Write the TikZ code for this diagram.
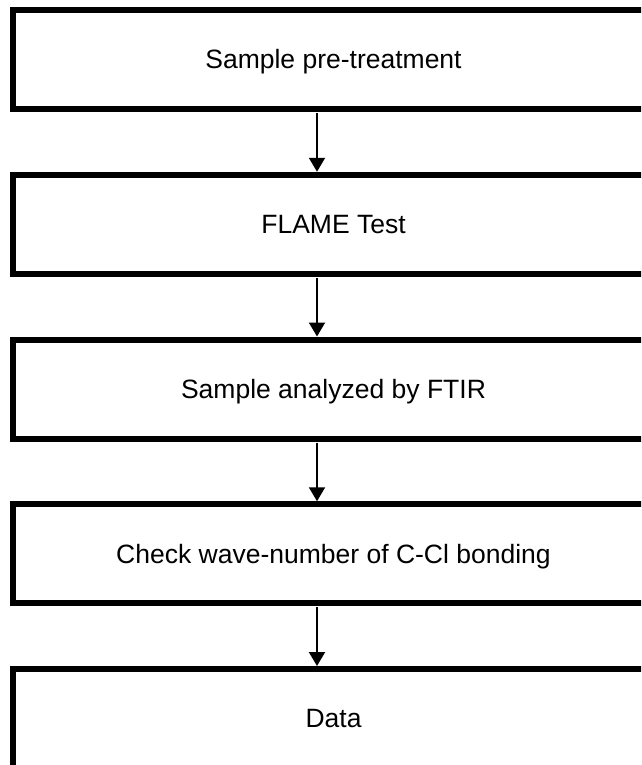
\documentclass[tikz,border=0pt]{standalone}
\usepackage{fontspec}
\setmainfont{Liberation Sans}
\usetikzlibrary{
  arrows.meta,
  positioning
}

\begin{document}
\begin{tikzpicture}[
  x=1pt, y=-1pt,
  node distance=59.75pt,
  stepbox/.style={
    rectangle,
    draw,
    line width=6pt,
    minimum width=641pt,
    minimum height=99pt,
    text height=24pt, text depth=5.5pt,
    font=\fontsize{26.5}{30}\selectfont
  },
  flow/.style={
    line width=2pt,
    -{Triangle[width=16pt,length=14pt]},
    shorten <=1pt
  }
]
\useasboundingbox (0,0) rectangle (641,765);
\clip (0,0) rectangle (641,765);

\node (pretreat) [stepbox] at (333.5,59.5) {Sample pre-treatment};
\node (flame) [stepbox, below=of pretreat] {FLAME Test};
\node (ftir) [stepbox, below=of flame] {Sample analyzed by FTIR};
\node (check) [stepbox, below=of ftir] {Check wave-number of C-Cl bonding};
\node (data) [stepbox, below=of check] {Data};

\foreach \from/\to in {pretreat/flame, flame/ftir, ftir/check, check/data}
  \draw[flow] ([xshift=-16.5pt]\from.south) -- ([xshift=-16.5pt]\to.north);
\end{tikzpicture}
\end{document}
